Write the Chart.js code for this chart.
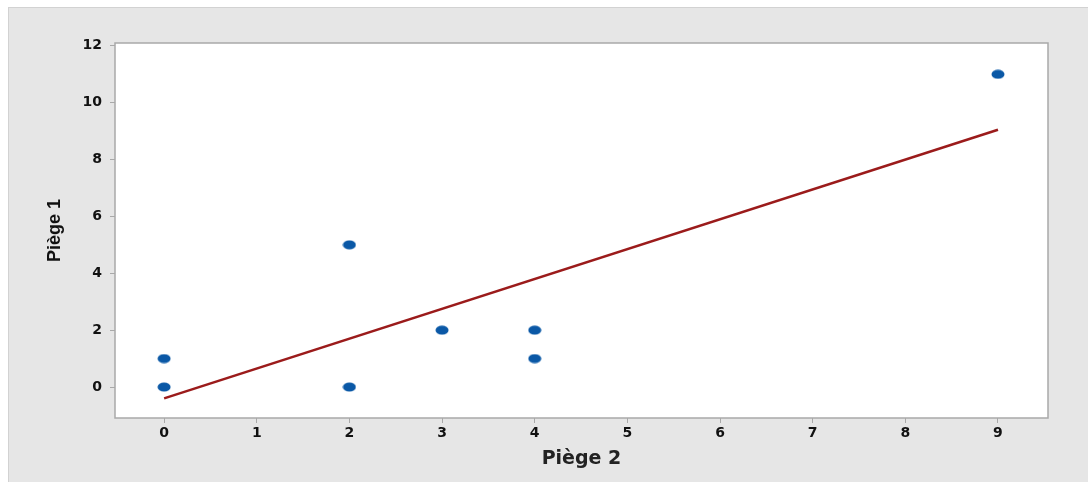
<!DOCTYPE html>
<html>
<head>
<meta charset="utf-8">
<script src="https://cdn.jsdelivr.net/npm/chart.js@4"></script>
<style>
  body { margin: 0; background: #fff; }
  #panel { position: absolute; left: 8px; top: 7px; width: 1080px; height: 475px;
           background: #e6e6e6; border-top: 1px solid #d2d2d2; border-left: 1px solid #d2d2d2; box-sizing: border-box; }
  #wrap { position: absolute; left: 0; top: 0; width: 1088px; height: 482px; }
</style>
</head>
<body>
<div id="panel"></div>
<div id="wrap"><canvas id="c" width="1088" height="482"></canvas></div>
<script>
// observed points
const piege2 = [0, 0, 2, 2, 3, 4, 4, 9];
const piege1 = [0, 1, 0, 5, 2, 1, 2, 11];
// fitted line, endpoints
const fitX = [0, 9];
const fitY = [-0.4, 9.05];
const xTicks = [0, 1, 2, 3, 4, 5, 6, 7, 8, 9];
const yTicks = [0, 2, 4, 6, 8, 10, 12];

// oval marker like the original
const dot = document.createElement('canvas');
dot.width = 14; dot.height = 10;
const dc = dot.getContext('2d');
dc.fillStyle = '#0a58a6';
dc.beginPath();
dc.ellipse(7, 5, 6.5, 4.6, 0, 0, Math.PI * 2);
dc.fill();

const plotBg = {
  id: 'plotBg',
  beforeDraw(chart) {
    const { ctx, chartArea: a } = chart;
    ctx.save();
    ctx.fillStyle = '#fff';
    ctx.fillRect(a.left, a.top, a.right - a.left, a.bottom - a.top);
    ctx.restore();
  },
  afterDraw(chart) {
    const { ctx, chartArea: a } = chart;
    ctx.save();
    ctx.strokeStyle = '#a9a9a9';
    ctx.lineWidth = 1.5;
    ctx.strokeRect(a.left, a.top, a.right - a.left, a.bottom - a.top);
    ctx.restore();
  }
};

const tickFont = { family: 'DejaVu Sans', size: 14, weight: 'bold' };

new Chart(document.getElementById('c'), {
  type: 'scatter',
  data: {
    datasets: [
      {
        type: 'line',
        data: fitX.map((x, i) => ({ x, y: fitY[i] })),
        borderColor: '#9b1b1b',
        borderWidth: 2.5,
        pointRadius: 0,
        fill: false,
        order: 2
      },
      {
        data: piege2.map((x, i) => ({ x, y: piege1[i] })),
        pointStyle: dot,
        pointRadius: 6,
        order: 1
      }
    ]
  },
  options: {
    responsive: false,
    animation: false,
    layout: { padding: { left: 8, right: 40, top: 43, bottom: 0 } },
    plugins: { legend: { display: false }, tooltip: { enabled: false } },
    scales: {
      x: {
        type: 'linear',
        min: -0.53, max: 9.54,
        afterBuildTicks: s => { s.ticks = xTicks.map(v => ({ value: v })); },
        afterFit: s => { s.height = 64; },
        grid: { drawOnChartArea: false, tickLength: 5, color: '#a9a9a9' },
        border: { display: false },
        ticks: { color: '#111', font: tickFont, padding: 2 },
        title: { display: true, text: 'Piège 2', color: '#222',
                 font: { family: 'DejaVu Sans', size: 19, weight: 'bold' }, padding: { top: 0, bottom: 12 } }
      },
      y: {
        min: -1.09, max: 12.1,
        afterBuildTicks: s => { s.ticks = yTicks.map(v => ({ value: v })); },
        afterFit: s => { s.width = 107; },
        grid: { drawOnChartArea: false, tickLength: 5, color: '#a9a9a9' },
        border: { display: false },
        ticks: { color: '#111', font: tickFont, padding: 8 },
        title: { display: true, text: 'Piège 1', color: '#111',
                 font: { family: 'Liberation Sans', size: 18, weight: 'bold' }, padding: { top: 36, bottom: 0 } }
      }
    }
  },
  plugins: [plotBg]
});
</script>
</body>
</html>
